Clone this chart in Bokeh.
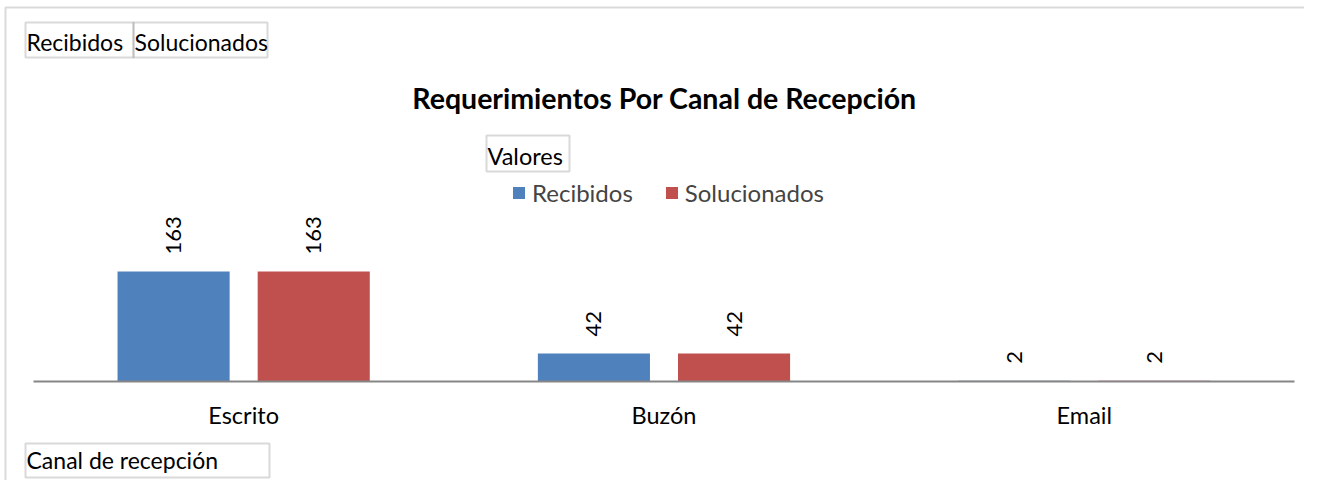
import math
from bokeh.plotting import figure
from bokeh.models import (ColumnDataSource, Range1d, Label, BoxAnnotation,
                          Legend, LegendItem, LinearAxis, FixedTicker)
from bokeh.core.properties import value
from bokeh.embed import file_html
from bokeh.resources import INLINE

# ---- data ----
canales = ["Escrito", "Buzón", "Email"]
recibidos = [163, 42, 2]
solucionados = [163, 42, 2]
series = ["Recibidos", "Solucionados"]
colores = ["#4F81BD", "#C0504D"]
titulo = "Requerimientos Por Canal de Recepción"
campo_filas = "Canal de recepción"
campo_valores = "Valores"

FONT = "Lato"
FS = "24px"
FS_BTN = "23px"

# category slots (center of each category on a numeric scale)
centros = [i + 0.5 for i in range(len(canales))]
off = 0.1667
bw = 0.2667

src = ColumnDataSource(dict(
    canal=canales,
    x_rec=[c - off for c in centros],
    x_sol=[c + off for c in centros],
    rec=recibidos,
    sol=solucionados,
    rec_txt=[str(v) for v in recibidos],
    sol_txt=[str(v) for v in solucionados],
))

p = figure(width=1304, height=480, output_backend="svg", toolbar_location=None,
           x_range=Range1d(-0.0785, 3.0239),
           y_range=Range1d(-145.3, 562.7),
           x_axis_location=None, y_axis_location=None,
           min_border=0)
p.outline_line_color = None
p.xgrid.visible = False
p.ygrid.visible = False
p.background_fill_color = "white"
p.border_fill_color = "white"

r1 = p.vbar(x="x_rec", top="rec", width=bw, source=src,
            fill_color=colores[0], line_color=None)
r2 = p.vbar(x="x_sol", top="sol", width=bw, source=src,
            fill_color=colores[1], line_color=None)

for xc, col, txt in (("x_rec", "rec", "rec_txt"), ("x_sol", "sol", "sol_txt")):
    p.text(x=xc, y=col, text=txt, source=src,
           angle=math.pi / 2, text_align="left", text_baseline="middle",
           y_offset=-17, text_font=value(FONT), text_font_size=value("22px"),
           text_color="black")

ax = LinearAxis(fixed_location=0, bounds=(0, len(canales)),
                ticker=FixedTicker(ticks=centros),
                major_label_overrides={c: n for c, n in zip(centros, canales)})
ax.axis_line_color = "#868686"
ax.axis_line_width = 2
ax.major_tick_line_color = None
ax.minor_tick_line_color = None
ax.major_label_standoff = 13
ax.major_label_text_font = FONT
ax.major_label_text_font_size = "23.5px"
ax.major_label_text_color = "black"
p.add_layout(ax, "below")

legend = Legend(items=[LegendItem(label=series[0], renderers=[r1]),
                       LegendItem(label=series[1], renderers=[r2])],
                orientation="horizontal", location=(511, 273),
                glyph_width=15, glyph_height=15, label_height=15,
                label_standoff=6, spacing=31, padding=0, margin=0,
                border_line_color=None, background_fill_alpha=0,
                label_text_font=FONT, label_text_font_size=FS)
p.add_layout(legend)

BOXC = "#818181"

def box(l, t, r, b, lw=2, color=BOXC):
    p.add_layout(BoxAnnotation(left=l, right=r, top=t, bottom=b,
                               left_units="canvas", right_units="canvas",
                               top_units="canvas", bottom_units="canvas",
                               fill_alpha=0, line_color=color, line_width=lw))

def label(x, y, text, align="left", bold=False, size=FS):
    p.add_layout(Label(x=x, y=y, x_units="canvas", y_units="canvas", text=text,
                       text_align=align, text_baseline="middle",
                       text_font=FONT, text_font_size=size,
                       text_font_style="bold" if bold else "normal",
                       text_color="black"))

# outer chart border (top and left visible)
box(5, 7, 1400, 700, color="#868686")
# field buttons
box(25, 22, 133, 57)
box(133, 22, 267, 57)
label(26, 41, series[0], size=FS_BTN)
label(134, 41, series[1], size=FS_BTN)
box(486, 135, 569, 171)
label(487, 155, campo_valores, size="23.5px")
box(25, 443, 269, 477)
label(26, 459, campo_filas, size=FS_BTN)
# title
label(664, 97, titulo, align="center", bold=True, size="28.5px")

open("out.html", "w").write(file_html(p, INLINE))
